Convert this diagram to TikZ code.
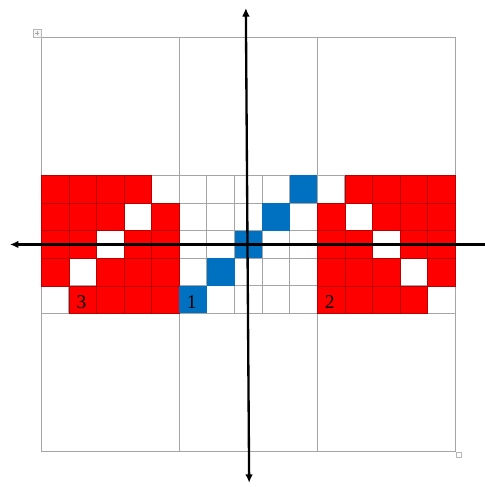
\documentclass[tikz,border=0pt]{standalone}
\usepackage{fontspec}
\setmainfont{Liberation Serif}
\usepackage{tikz}
\usetikzlibrary{arrows.meta}
\definecolor{cellred}{RGB}{255,0,0}
\definecolor{cellblue}{RGB}{0,112,192}
\definecolor{gridgray}{RGB}{165,165,165}
\tikzset{
  gridline/.style={draw=gridgray, line width=1.1pt},
  redcell/.style={fill=cellred, draw=red!72!black, line width=0.6pt},
  bluecell/.style={fill=cellblue},
  axisarrow/.style={{Latex[length=3.1mm,width=2.8mm]}-{Latex[length=3.1mm,width=2.8mm]}, line width=2.4pt},
  cellnum/.style={font=\fontsize{20}{22}\selectfont, inner sep=0pt},
  handle/.style={draw=gridgray!80, fill=gray!8, line width=0.5pt}
}

\begin{document}
\begin{tikzpicture}
  \useasboundingbox (-9.0,-8.79) rectangle (8.57,8.86);
  % outer frame and big blocks
  \draw[gridline] (-7.5,-7.5) rectangle (7.5,7.5);
  \draw[gridline] (-2.5,-7.5) -- (-2.5,7.5);
  \draw[gridline] (2.5,-7.5) -- (2.5,7.5);
  \draw[gridline] (-7.5,2.5) -- (7.5,2.5);
  \draw[gridline] (-7.5,-2.5) -- (7.5,-2.5);
  % small cells of the middle band
  \foreach \x in {-6.5,-5.5,...,6.5}
    \draw[gridline] (\x,-2.5) -- (\x,2.5);
  \foreach \y in {-1.5,-0.5,0.5,1.5}
    \draw[gridline] (-7.5,\y) -- (7.5,\y);
  % red cells (column/row, rows counted from the top)
  \foreach \c/\r in {1/1,2/1,3/1,4/1, 1/2,2/2,3/2,5/2, 1/3,2/3,4/3,5/3,
                     1/4,3/4,4/4,5/4, 2/5,3/5,4/5,5/5,
                     12/1,13/1,14/1,15/1, 11/2,13/2,14/2,15/2, 11/3,12/3,14/3,15/3,
                     11/4,12/4,13/4,15/4, 11/5,12/5,13/5,14/5}
    \draw[redcell] (-8.5+\c,3.5-\r) rectangle (-7.5+\c,2.5-\r);
  % blue cells
  \foreach \c/\r in {10/1,9/2,8/3,7/4,6/5}
    \fill[bluecell] (-8.5+\c,3.5-\r) rectangle (-7.5+\c,2.5-\r);
  % numbers
  \node[cellnum] (numthree) at (-6.05,-2.08) {3};
  \node[cellnum] (numone) at (-2.05,-2.08) {1};
  \node[cellnum] (numtwo) at (2.95,-2.08) {2};
  % axes
  \coordinate (xleft) at (-8.64,0);
  \coordinate (xright) at (9.3,0);
  \coordinate (ybottom) at (0.03,-8.64);
  \coordinate (ytop) at (-0.09,8.57);
  \draw[axisarrow] (xleft) -- (xright);
  \draw[axisarrow] (ybottom) -- (ytop);
  % table handles
  \draw[handle] (-7.8,7.52) rectangle (-7.52,7.8);
  \draw[gray!70, line width=0.4pt] (-7.74,7.66) -- (-7.58,7.66) (-7.66,7.58) -- (-7.66,7.74);
  \draw[handle, fill=white] (7.52,-7.52) rectangle (7.7,-7.7);
\end{tikzpicture}
\end{document}
